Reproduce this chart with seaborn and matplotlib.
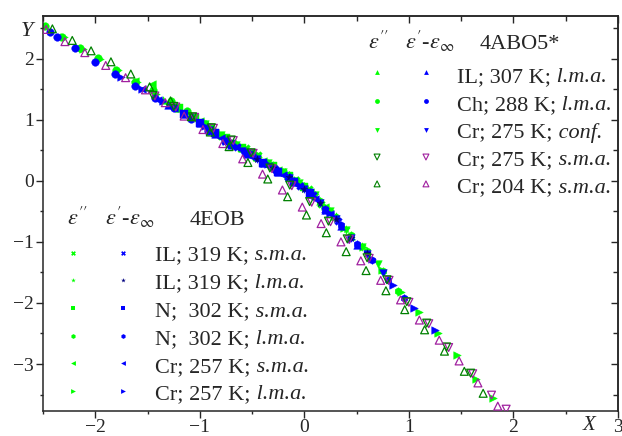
import matplotlib
matplotlib.use("Agg")
import matplotlib.pyplot as plt
import matplotlib.font_manager as fm
import seaborn as sns
from matplotlib.ticker import MultipleLocator

# ---------------- 4ABO5* ----------------
# e2 = eps'' (green), e1 = eps'-eps_inf (blue / magenta)
il307_e2_x = [-1.35, -1.20, -1.05, -0.90, -0.75, -0.60, -0.45, -0.30, -0.15, 0.00, 0.15, 0.30, 0.45]
il307_e2_y = [1.33, 1.19, 1.04, 0.88, 0.69, 0.54, 0.39, 0.25, 0.09, -0.09, -0.33, -0.58, -0.90]
il307_e1_x = [-1.30, -1.15, -1.00, -0.85, -0.70, -0.55, -0.40, -0.25, -0.10, 0.05, 0.20, 0.35, 0.50]
il307_e1_y = [1.24, 1.09, 0.94, 0.76, 0.59, 0.44, 0.29, 0.15, -0.02, -0.21, -0.47, -0.74, -1.05]

ch288_e2_x = [-2.48, -2.32, -2.15, -1.97, -1.80, -1.62, -1.45, -1.28, -1.12, -0.95]
ch288_e2_y = [2.54, 2.35, 2.17, 2.02, 1.82, 1.62, 1.48, 1.31, 1.14, 0.93]
ch288_e1_x = [-2.43, -2.37, -2.19, -2.00, -1.81, -1.62, -1.43, -1.25, -1.08, -0.92]
ch288_e1_y = [2.43, 2.36, 2.17, 1.95, 1.75, 1.55, 1.36, 1.19, 1.01, 0.82]

cr275c_e2_x = [-0.95, -0.80, -0.65, -0.50, -0.35, -0.20, -0.05, 0.10, 0.25, 0.40, 0.55, 0.70]
cr275c_e2_y = [0.93, 0.75, 0.59, 0.45, 0.29, 0.15, -0.03, -0.24, -0.50, -0.80, -1.08, -1.37]
cr275c_e1_x = [-0.90, -0.75, -0.60, -0.45, -0.30, -0.15, 0.00, 0.15, 0.30, 0.45, 0.60, 0.75]
cr275c_e1_y = [0.84, 0.65, 0.49, 0.35, 0.20, 0.05, -0.13, -0.37, -0.63, -0.94, -1.20, -1.51]

cr275s_e2_x = [-1.45, -1.25, -1.07, -0.89, -0.70, -0.51, -0.33, -0.14, 0.05, 0.23, 0.41, 0.60,
               0.79, 0.98, 1.17, 1.36, 1.59]
cr275s_e2_y = [1.40, 1.22, 1.05, 0.87, 0.67, 0.46, 0.21, -0.07, -0.34, -0.66, -0.95, -1.26,
               -1.62, -1.98, -2.33, -2.72, -3.15]
cr275s_e1_x = [-1.43, -1.23, -1.05, -0.87, -0.68, -0.49, -0.31, -0.12, 0.07, 0.25, 0.43, 0.62,
               0.81, 1.00, 1.19, 1.38, 1.61, 1.79, 1.93]
cr275s_e1_y = [1.39, 1.21, 1.04, 0.86, 0.66, 0.45, 0.20, -0.08, -0.35, -0.67, -0.96, -1.27,
               -1.63, -1.99, -2.34, -2.73, -3.16, -3.51, -3.74]

cr204_e2_x = [-2.41, -2.22, -2.04, -1.85, -1.66, -1.48, -1.28, -1.08, -0.90, -0.72, -0.54, -0.35,
              -0.16, 0.02, 0.21, 0.40, 0.59, 0.78, 0.96, 1.15, 1.34, 1.53, 1.71]
cr204_e2_y = [2.49, 2.30, 2.13, 1.95, 1.75, 1.54, 1.31, 1.05, 0.80, 0.56, 0.30, 0.03,
              -0.26, -0.56, -0.85, -1.16, -1.47, -1.80, -2.11, -2.44, -2.79, -3.12, -3.48]
cr204_e1_x = [-2.47, -2.29, -2.10, -1.90, -1.71, -1.52, -1.33, -1.15, -0.97, -0.78, -0.59, -0.40,
              -0.21, -0.02, 0.16, 0.35, 0.54, 0.73, 0.92, 1.10, 1.29, 1.48, 1.66, 1.85]
cr204_e1_y = [2.48, 2.28, 2.10, 1.89, 1.69, 1.49, 1.28, 1.06, 0.84, 0.61, 0.36, 0.11,
              -0.15, -0.43, -0.70, -1.00, -1.31, -1.63, -1.95, -2.28, -2.61, -2.95, -3.31, -3.69]

# ---------------- 4EOB ----------------
il319s_e2_x = [-0.80, -0.68, -0.56, -0.44, -0.32, -0.20, -0.08, 0.04, 0.16, 0.28]
il319s_e2_y = [0.74, 0.62, 0.53, 0.43, 0.26, 0.14, 0.02, -0.14, -0.38, -0.59]
il319s_e1_x = [-0.76, -0.64, -0.52, -0.40, -0.28, -0.16, -0.04, 0.08, 0.20, 0.32]
il319s_e1_y = [0.66, 0.55, 0.44, 0.30, 0.19, 0.06, -0.09, -0.24, -0.47, -0.66]

il319l_e2_x = [-0.50, -0.35, -0.20, -0.05, 0.10, 0.25, 0.40, 0.55]
il319l_e2_y = [0.44, 0.30, 0.14, -0.03, -0.23, -0.49, -0.79, -1.07]
il319l_e1_x = [-0.45, -0.30, -0.15, 0.00, 0.15, 0.30, 0.45, 0.60]
il319l_e1_y = [0.35, 0.21, 0.06, -0.13, -0.36, -0.62, -0.93, -1.19]

n302s_e2_x = [-1.20, -1.05, -0.90, -0.75, -0.60, -0.45, -0.30, -0.15, 0.00]
n302s_e2_y = [1.19, 1.03, 0.87, 0.70, 0.53, 0.39, 0.24, 0.08, -0.10]
n302s_e1_x = [-1.15, -1.00, -0.85, -0.70, -0.55, -0.40, -0.25, -0.10, 0.05]
n302s_e1_y = [1.10, 0.95, 0.78, 0.60, 0.45, 0.30, 0.15, -0.02, -0.20]

n302l_e2_x = [-0.30, -0.15, 0.00, 0.15, 0.30, 0.45, 0.60, 0.75, 0.90]
n302l_e2_y = [0.25, 0.09, -0.09, -0.33, -0.59, -0.89, -1.15, -1.47, -1.80]
n302l_e1_x = [-0.25, -0.10, 0.05, 0.20, 0.35, 0.50, 0.65, 0.80, 0.95]
n302l_e1_y = [0.16, -0.01, -0.19, -0.46, -0.73, -1.04, -1.30, -1.62, -1.92]

cr257s_e2_x = [-1.62, -1.46, -1.30, -1.15, -1.00, -0.85, -0.70, -0.55, -0.40, -0.25, -0.10, 0.05, 0.20]
cr257s_e2_y = [1.63, 1.59, 1.28, 1.12, 0.98, 0.79, 0.62, 0.48, 0.33, 0.18, 0.02, -0.18, -0.43]
cr257s_e1_x = [-1.55, -1.40, -1.25, -1.10, -0.95, -0.80, -0.65, -0.50, -0.35, -0.20, -0.05, 0.10, 0.25]
cr257s_e1_y = [1.50, 1.33, 1.19, 1.04, 0.88, 0.70, 0.55, 0.39, 0.25, 0.10, -0.08, -0.29, -0.55]

cr257l_e2_x = [-2.30, -2.12, -1.95, -1.78, -1.60, -1.42, -1.24, -1.06, -0.88, -0.70, -0.52, -0.34,
               -0.16, 0.02, 0.20, 0.38, 0.56, 0.74, 0.92, 1.10, 1.28, 1.46, 1.64, 1.80]
cr257l_e2_y = [2.36, 2.16, 2.00, 1.82, 1.62, 1.42, 1.24, 1.04, 0.86, 0.64, 0.46, 0.29,
               0.10, -0.11, -0.42, -0.77, -1.09, -1.46, -1.82, -2.15, -2.50, -2.85, -3.25, -3.55]
cr257l_e1_x = [-1.75, -1.55, -1.35, -1.15, -0.95, -0.75, -0.55, -0.35, -0.15, 0.05, 0.25, 0.45,
               0.65, 0.85, 1.05, 1.25]
cr257l_e1_y = [1.70, 1.50, 1.30, 1.11, 0.90, 0.66, 0.46, 0.28, 0.07, -0.18, -0.53, -0.96,
               -1.28, -1.70, -2.08, -2.45]

# legend texts: (upright part, italic part)
abo_labels = [("IL; 307 K;", " l.m.a."), ("Ch; 288 K;", " l.m.a."), ("Cr; 275 K;", " conf."),
              ("Cr; 275 K;", " s.m.a."), ("Cr; 204 K;", " s.m.a.")]
eob_labels = [("IL; 319 K;", " s.m.a."), ("IL; 319 K;", " l.m.a."), ("N;  302 K;", " s.m.a."),
              ("N;  302 K;", " l.m.a."), ("Cr; 257 K;", " s.m.a."), ("Cr; 257 K;", " l.m.a.")]

GREEN = "#00ff00"
BLUE = "#0000ff"
NAVY = "#000080"
DKGREEN = "#008000"
MAGENTA = "#a0209f"

for f in fm.findSystemFonts():
    if "LiberationSerif" in f.replace(" ", ""):
        fm.fontManager.addfont(f)

sns.set_style("ticks")
plt.rcParams.update({
    "font.family": ["Liberation Serif", "DejaVu Serif"],
    "mathtext.fontset": "stix",
    "axes.linewidth": 1.1,
})

fig = plt.figure(figsize=(6.22, 4.36), dpi=100)
ax = fig.add_axes([0.0691, 0.0573, 0.9245, 0.906])

# (x, y, marker, color, open?)
series = [
    (ch288_e2_x, ch288_e2_y, "o", GREEN, False),
    (cr257l_e2_x, cr257l_e2_y, ">", GREEN, False),
    (cr257s_e2_x, cr257s_e2_y, "<", GREEN, False),
    (il307_e2_x, il307_e2_y, "^", GREEN, False),
    (cr275c_e2_x, cr275c_e2_y, "v", GREEN, False),
    (il319s_e2_x, il319s_e2_y, "X", GREEN, False),
    (il319l_e2_x, il319l_e2_y, "*", GREEN, False),
    (n302s_e2_x, n302s_e2_y, "s", GREEN, False),
    (n302l_e2_x, n302l_e2_y, "h", GREEN, False),
    (ch288_e1_x, ch288_e1_y, "o", BLUE, False),
    (cr257l_e1_x, cr257l_e1_y, ">", BLUE, False),
    (cr257s_e1_x, cr257s_e1_y, "<", BLUE, False),
    (il307_e1_x, il307_e1_y, "^", BLUE, False),
    (cr275c_e1_x, cr275c_e1_y, "v", BLUE, False),
    (il319s_e1_x, il319s_e1_y, "X", BLUE, False),
    (il319l_e1_x, il319l_e1_y, "*", NAVY, False),
    (n302s_e1_x, n302s_e1_y, "s", BLUE, False),
    (n302l_e1_x, n302l_e1_y, "h", BLUE, False),
    (cr275s_e1_x, cr275s_e1_y, "v", MAGENTA, True),
    (cr275s_e2_x, cr275s_e2_y, "v", DKGREEN, True),
    (cr204_e1_x, cr204_e1_y, "^", MAGENTA, True),
    (cr204_e2_x, cr204_e2_y, "^", DKGREEN, True),
]

for xs, ys, m, c, hollow in series:
    if hollow:
        sns.scatterplot(x=xs, y=ys, marker=m, s=32, facecolors="none", edgecolor=c,
                        linewidth=0.9, ax=ax, zorder=3)
    else:
        sns.scatterplot(x=xs, y=ys, marker=m, s=30, color=c, edgecolor=c,
                        linewidth=0.3, ax=ax, zorder=2)

ax.set_xlim(-2.5, 3.0)
ax.set_ylim(-3.77, 2.70)
ax.set_xticks([-2, -1, 0, 1, 2, 3])
ax.set_xticklabels(["\u22122", "\u22121", "0", "1", "2", "3"])
ax.set_yticks([-3, -2, -1, 0, 1, 2])
ax.set_yticklabels(["\u22123", "\u22122", "\u22121", "0", "1", "2"])
ax.xaxis.set_minor_locator(MultipleLocator(0.5))
ax.yaxis.set_minor_locator(MultipleLocator(0.5))
ax.tick_params(which="major", direction="out", length=5, width=1.0, labelsize=14)
ax.tick_params(which="minor", direction="out", length=2.5, width=1.0)
ax.tick_params(axis="x", pad=0.5)
ax.tick_params(axis="y", pad=1.5)

top = ax.secondary_xaxis("top")
top.xaxis.set_major_locator(MultipleLocator(1))
top.xaxis.set_minor_locator(MultipleLocator(0.5))
top.tick_params(which="both", direction="in", labeltop=False, width=1.0)
top.tick_params(which="major", length=5)
top.tick_params(which="minor", length=3.5)
right = ax.secondary_yaxis("right")
right.yaxis.set_major_locator(MultipleLocator(1))
right.yaxis.set_minor_locator(MultipleLocator(0.5))
right.tick_params(which="both", direction="in", labelright=False, width=1.0)
right.tick_params(which="major", length=5)
right.tick_params(which="minor", length=3.5)

ax.text(2.72, -0.012, "X", transform=ax.get_xaxis_transform(), ha="center", va="top",
        fontsize=15, style="italic")
ax.text(-0.017, 2.45, "Y", transform=ax.get_yaxis_transform(), ha="right", va="center",
        fontsize=16, style="italic")

# ---- legend blocks ----
tr = ax.transAxes
FS = 16
eps2 = "$\\varepsilon''$"
eps1 = "$\\varepsilon'$-$\\varepsilon_{\\infty}$"


def label(x, y, parts):
    t = ax.text(x, y, parts[0], transform=tr, ha="left", va="baseline", fontsize=FS)
    ax.annotate(parts[1], xy=(1, 0), xycoords=t, ha="left", va="bottom", fontsize=FS,
                style="italic")


ax.text(0.565, 0.9165, eps2, transform=tr, ha="left", va="baseline", fontsize=FS)
ax.text(0.630, 0.9165, eps1, transform=tr, ha="left", va="baseline", fontsize=FS)
ax.text(0.760, 0.9165, "4ABO5*", transform=tr, ha="left", va="baseline", fontsize=FS)
abo_marks = [0.858, 0.785, 0.711, 0.643, 0.575]
abo_base = [0.833, 0.762, 0.692, 0.623, 0.553]
abo_sym = [("^", GREEN, BLUE, False), ("o", GREEN, BLUE, False), ("v", GREEN, BLUE, False),
           ("v", DKGREEN, MAGENTA, True), ("^", DKGREEN, MAGENTA, True)]
for ym, yb, lab, (m, c2, c1, hollow) in zip(abo_marks, abo_base, abo_labels, abo_sym):
    for xx, c in ((0.581, c2), (0.666, c1)):
        if hollow:
            ax.scatter(xx, ym, marker=m, s=18, facecolors="none", edgecolors=c,
                       linewidths=0.8, transform=tr, clip_on=False)
        else:
            ax.scatter(xx, ym, marker=m, s=12, color=c, linewidths=0, transform=tr,
                       clip_on=False)
    label(0.720, yb, lab)

ax.text(0.0417, 0.471, eps2, transform=tr, ha="left", va="baseline", fontsize=FS)
ax.text(0.108, 0.471, eps1, transform=tr, ha="left", va="baseline", fontsize=FS)
ax.text(0.2557, 0.471, "4EOB", transform=tr, ha="left", va="baseline", fontsize=FS)
eob_marks = [0.400, 0.332, 0.261, 0.190, 0.122, 0.051]
eob_base = [0.382, 0.311, 0.239, 0.169, 0.0995, 0.0296]
eob_sym = [("X", GREEN, BLUE), ("*", GREEN, NAVY), ("s", GREEN, BLUE),
           ("h", GREEN, BLUE), ("<", GREEN, BLUE), (">", GREEN, BLUE)]
for ym, yb, lab, (m, c2, c1) in zip(eob_marks, eob_base, eob_labels, eob_sym):
    for xx, c in ((0.052, c2), (0.139, c1)):
        ax.scatter(xx, ym, marker=m, s=12, color=c, linewidths=0, transform=tr,
                   clip_on=False)
    label(0.195, yb, lab)

fig.savefig("out.png", dpi=100)
